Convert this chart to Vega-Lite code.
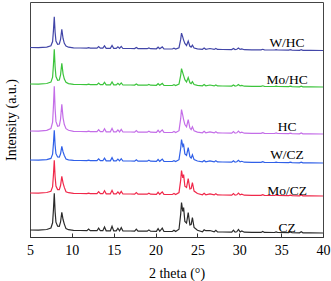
{
  "$schema": "https://vega.github.io/schema/vega-lite/v6.json",
  "width": 293,
  "height": 235,
  "autosize": {"type": "none"},
  "padding": {"left": 30, "top": 2, "right": 8, "bottom": 44},
  "config": {
    "font": "Liberation Serif",
    "view": {"stroke": "#444", "strokeWidth": 1}
  },
  "datasets": {
    "xrd": [
      {"x":5.0,"WHC":189.5,"MoHC":153,"HC":106,"WCZ":77,"MoCZ":44,"CZ":7},
      {"x":6.0,"WHC":189.4,"MoHC":152.9,"HC":105.9,"WCZ":76.9,"MoCZ":43.9,"CZ":6.9},
      {"x":7.0,"WHC":189.9,"MoHC":153.5,"HC":106.7,"WCZ":77.4,"MoCZ":44.5,"CZ":7.5},
      {"x":7.5,"WHC":191.2,"MoHC":154.9,"HC":108.5,"WCZ":78.6,"MoCZ":45.8,"CZ":9.0},
      {"x":7.7,"WHC":195.5,"MoHC":159.8,"HC":114.8,"WCZ":82.8,"MoCZ":50.4,"CZ":14.2},
      {"x":7.8,"WHC":206.4,"MoHC":172.1,"HC":130.6,"WCZ":93.3,"MoCZ":62.0,"CZ":27.2},
      {"x":7.9,"WHC":220.3,"MoHC":187.8,"HC":150.8,"WCZ":106.8,"MoCZ":76.8,"CZ":43.8},
      {"x":8.0,"WHC":204.7,"MoHC":170.2,"HC":128.2,"WCZ":91.7,"MoCZ":60.2,"CZ":25.2},
      {"x":8.1,"WHC":196.0,"MoHC":160.4,"HC":115.6,"WCZ":83.3,"MoCZ":51.0,"CZ":14.8},
      {"x":8.3,"WHC":192.7,"MoHC":156.7,"HC":110.8,"WCZ":80.0,"MoCZ":47.4,"CZ":10.8},
      {"x":8.5,"WHC":193.0,"MoHC":157.0,"HC":111.2,"WCZ":79.9,"MoCZ":47.4,"CZ":10.7},
      {"x":8.65,"WHC":197.5,"MoHC":162.2,"HC":117.9,"WCZ":83.2,"MoCZ":51.5,"CZ":15.0},
      {"x":8.8,"WHC":207.7,"MoHC":173.7,"HC":132.7,"WCZ":90.7,"MoCZ":60.7,"CZ":24.7},
      {"x":8.95,"WHC":198.5,"MoHC":163.2,"HC":119.2,"WCZ":85.1,"MoCZ":53.9,"CZ":17.5},
      {"x":9.1,"WHC":193.7,"MoHC":157.9,"HC":112.4,"WCZ":81.5,"MoCZ":49.6,"CZ":12.9},
      {"x":9.3,"WHC":191.0,"MoHC":154.7,"HC":108.3,"WCZ":78.0,"MoCZ":45.3,"CZ":8.4},
      {"x":9.6,"WHC":189.8,"MoHC":153.4,"HC":106.7,"WCZ":77.2,"MoCZ":44.3,"CZ":7.3},
      {"x":10.2,"WHC":189.1,"MoHC":152.6,"HC":105.6,"WCZ":76.6,"MoCZ":43.6,"CZ":6.6},
      {"x":11.0,"WHC":189.0,"MoHC":152.5,"HC":105.5,"WCZ":76.5,"MoCZ":43.5,"CZ":6.5},
      {"x":11.8,"WHC":188.9,"MoHC":152.4,"HC":105.4,"WCZ":76.4,"MoCZ":43.4,"CZ":6.4},
      {"x":12.0,"WHC":189.3,"MoHC":152.8,"HC":105.9,"WCZ":76.9,"MoCZ":43.9,"CZ":7.9},
      {"x":12.2,"WHC":188.9,"MoHC":152.4,"HC":105.4,"WCZ":76.4,"MoCZ":43.4,"CZ":6.4},
      {"x":13.0,"WHC":188.8,"MoHC":152.3,"HC":105.3,"WCZ":76.3,"MoCZ":43.3,"CZ":6.3},
      {"x":13.2,"WHC":190.4,"MoHC":153.9,"HC":107.3,"WCZ":78.1,"MoCZ":45.3,"CZ":8.9},
      {"x":13.4,"WHC":188.8,"MoHC":152.3,"HC":105.3,"WCZ":76.3,"MoCZ":43.3,"CZ":6.3},
      {"x":13.7,"WHC":188.8,"MoHC":152.3,"HC":105.3,"WCZ":76.3,"MoCZ":43.3,"CZ":6.3},
      {"x":13.9,"WHC":191.1,"MoHC":154.6,"HC":108.2,"WCZ":78.9,"MoCZ":46.2,"CZ":10.1},
      {"x":14.1,"WHC":188.7,"MoHC":152.2,"HC":105.2,"WCZ":76.2,"MoCZ":43.2,"CZ":6.2},
      {"x":14.6,"WHC":188.7,"MoHC":152.2,"HC":105.2,"WCZ":76.2,"MoCZ":43.2,"CZ":6.2},
      {"x":14.8,"WHC":191.5,"MoHC":155.0,"HC":108.7,"WCZ":79.35,"MoCZ":46.7,"CZ":10.75},
      {"x":15.0,"WHC":188.6,"MoHC":152.1,"HC":105.1,"WCZ":76.1,"MoCZ":43.1,"CZ":6.1},
      {"x":15.3,"WHC":188.6,"MoHC":152.1,"HC":105.1,"WCZ":76.1,"MoCZ":43.1,"CZ":6.1},
      {"x":15.5,"WHC":190.2,"MoHC":153.7,"HC":107.1,"WCZ":77.9,"MoCZ":45.1,"CZ":8.7},
      {"x":15.7,"WHC":188.6,"MoHC":152.1,"HC":105.1,"WCZ":76.1,"MoCZ":43.1,"CZ":6.1},
      {"x":15.9,"WHC":190.6,"MoHC":154.1,"HC":107.6,"WCZ":78.35,"MoCZ":45.6,"CZ":9.35},
      {"x":16.1,"WHC":188.5,"MoHC":152.0,"HC":105.0,"WCZ":76.0,"MoCZ":43.0,"CZ":6.0},
      {"x":17.0,"WHC":188.5,"MoHC":152.0,"HC":105.0,"WCZ":76.0,"MoCZ":43.0,"CZ":6.0},
      {"x":17.5,"WHC":188.4,"MoHC":151.9,"HC":104.9,"WCZ":75.9,"MoCZ":42.9,"CZ":5.9},
      {"x":17.7,"WHC":189.6,"MoHC":153.1,"HC":106.4,"WCZ":77.25,"MoCZ":44.4,"CZ":7.85},
      {"x":17.9,"WHC":188.4,"MoHC":151.9,"HC":104.9,"WCZ":75.9,"MoCZ":42.9,"CZ":5.9},
      {"x":19.0,"WHC":188.3,"MoHC":151.8,"HC":104.8,"WCZ":75.8,"MoCZ":42.8,"CZ":5.8},
      {"x":19.2,"WHC":189.1,"MoHC":152.6,"HC":105.8,"WCZ":76.7,"MoCZ":43.8,"CZ":7.1},
      {"x":19.4,"WHC":188.3,"MoHC":151.8,"HC":104.8,"WCZ":75.8,"MoCZ":42.8,"CZ":5.8},
      {"x":20.1,"WHC":188.2,"MoHC":151.7,"HC":104.7,"WCZ":75.7,"MoCZ":42.7,"CZ":5.7},
      {"x":20.3,"WHC":189.8,"MoHC":153.3,"HC":106.7,"WCZ":77.5,"MoCZ":44.7,"CZ":8.3},
      {"x":20.5,"WHC":188.2,"MoHC":151.7,"HC":104.7,"WCZ":75.7,"MoCZ":42.7,"CZ":5.7},
      {"x":20.8,"WHC":190.1,"MoHC":153.6,"HC":107.1,"WCZ":77.85,"MoCZ":45.1,"CZ":8.85},
      {"x":21.0,"WHC":188.1,"MoHC":151.6,"HC":104.6,"WCZ":75.6,"MoCZ":42.6,"CZ":5.6},
      {"x":22.0,"WHC":188.0,"MoHC":151.5,"HC":104.5,"WCZ":75.5,"MoCZ":42.5,"CZ":5.5},
      {"x":22.2,"WHC":188.8,"MoHC":152.3,"HC":105.5,"WCZ":76.4,"MoCZ":43.5,"CZ":6.8},
      {"x":22.4,"WHC":188.0,"MoHC":151.5,"HC":104.5,"WCZ":75.5,"MoCZ":42.5,"CZ":5.5},
      {"x":22.8,"WHC":189.3,"MoHC":152.9,"HC":106.3,"WCZ":77.3,"MoCZ":44.4,"CZ":7.8},
      {"x":23.0,"WHC":197.6,"MoHC":161.7,"HC":118.3,"WCZ":88.7,"MoCZ":56.9,"CZ":22.9},
      {"x":23.1,"WHC":203.9,"MoHC":168.4,"HC":127.4,"WCZ":97.4,"MoCZ":66.4,"CZ":34.4},
      {"x":23.25,"WHC":199.9,"MoHC":164.15,"HC":121.65,"WCZ":90.8,"MoCZ":59.2,"CZ":25.7},
      {"x":23.35,"WHC":196.9,"MoHC":161.4,"HC":117.4,"WCZ":92.4,"MoCZ":62.4,"CZ":29.4},
      {"x":23.5,"WHC":193.5,"MoHC":157.35,"HC":112.45,"WCZ":83.1,"MoCZ":50.8,"CZ":15.55},
      {"x":23.7,"WHC":191.5,"MoHC":155.0,"HC":110.25,"WCZ":81.7,"MoCZ":49.6,"CZ":13.95},
      {"x":23.9,"WHC":195.9,"MoHC":159.4,"HC":117.4,"WCZ":89.4,"MoCZ":58.4,"CZ":24.4},
      {"x":24.1,"WHC":190.7,"MoHC":154.2,"HC":108.95,"WCZ":80.3,"MoCZ":48.0,"CZ":12.05},
      {"x":24.25,"WHC":189.9,"MoHC":153.4,"HC":107.4,"WCZ":78.9,"MoCZ":48.4,"CZ":12.4},
      {"x":24.4,"WHC":191.8,"MoHC":155.3,"HC":110.3,"WCZ":82.3,"MoCZ":54.3,"CZ":19.3},
      {"x":24.6,"WHC":189.0,"MoHC":152.5,"HC":106.1,"WCZ":77.4,"MoCZ":45.9,"CZ":9.5},
      {"x":25.0,"WHC":188.2,"MoHC":151.7,"HC":104.9,"WCZ":76.0,"MoCZ":43.5,"CZ":6.7},
      {"x":25.6,"WHC":187.7,"MoHC":151.2,"HC":104.2,"WCZ":75.2,"MoCZ":42.2,"CZ":5.2},
      {"x":25.8,"WHC":188.9,"MoHC":152.4,"HC":105.7,"WCZ":76.55,"MoCZ":43.7,"CZ":7.15},
      {"x":26.0,"WHC":187.7,"MoHC":151.2,"HC":104.2,"WCZ":75.2,"MoCZ":42.2,"CZ":6.3},
      {"x":26.5,"WHC":188.5,"MoHC":152.0,"HC":105.2,"WCZ":76.1,"MoCZ":43.2,"CZ":6.5},
      {"x":27.0,"WHC":187.6,"MoHC":151.1,"HC":104.1,"WCZ":75.1,"MoCZ":42.1,"CZ":5.1},
      {"x":27.2,"WHC":188.6,"MoHC":152.1,"HC":105.3,"WCZ":76.2,"MoCZ":43.3,"CZ":6.7},
      {"x":27.4,"WHC":187.6,"MoHC":151.1,"HC":104.1,"WCZ":75.1,"MoCZ":42.1,"CZ":5.1},
      {"x":28.0,"WHC":187.5,"MoHC":151.0,"HC":104.0,"WCZ":75.0,"MoCZ":42.0,"CZ":5.0},
      {"x":29.1,"WHC":187.4,"MoHC":150.9,"HC":103.9,"WCZ":74.9,"MoCZ":41.9,"CZ":4.9},
      {"x":29.3,"WHC":188.6,"MoHC":152.1,"HC":105.4,"WCZ":76.25,"MoCZ":43.4,"CZ":6.85},
      {"x":29.5,"WHC":187.4,"MoHC":150.9,"HC":103.9,"WCZ":74.9,"MoCZ":41.9,"CZ":4.9},
      {"x":29.7,"WHC":187.7,"MoHC":151.2,"HC":104.2,"WCZ":75.2,"MoCZ":42.2,"CZ":5.2},
      {"x":29.9,"WHC":189.0,"MoHC":152.5,"HC":105.9,"WCZ":76.7,"MoCZ":43.9,"CZ":7.5},
      {"x":30.1,"WHC":187.6,"MoHC":151.1,"HC":104.1,"WCZ":75.1,"MoCZ":42.1,"CZ":5.1},
      {"x":30.3,"WHC":188.1,"MoHC":151.6,"HC":104.8,"WCZ":75.7,"MoCZ":42.8,"CZ":6.1},
      {"x":30.6,"WHC":187.3,"MoHC":150.8,"HC":103.8,"WCZ":74.8,"MoCZ":41.8,"CZ":4.8},
      {"x":31.5,"WHC":187.2,"MoHC":150.7,"HC":103.7,"WCZ":74.7,"MoCZ":41.7,"CZ":4.7},
      {"x":32.6,"WHC":187.1,"MoHC":150.6,"HC":103.6,"WCZ":74.6,"MoCZ":41.6,"CZ":4.6},
      {"x":32.8,"WHC":187.7,"MoHC":151.2,"HC":104.4,"WCZ":75.3,"MoCZ":42.4,"CZ":5.6},
      {"x":33.0,"WHC":187.1,"MoHC":150.6,"HC":103.6,"WCZ":74.6,"MoCZ":41.6,"CZ":4.6},
      {"x":34.2,"WHC":187.0,"MoHC":150.5,"HC":103.5,"WCZ":74.5,"MoCZ":41.5,"CZ":4.5},
      {"x":34.4,"WHC":187.4,"MoHC":150.9,"HC":104.0,"WCZ":74.95,"MoCZ":42.0,"CZ":5.15},
      {"x":34.6,"WHC":187.0,"MoHC":150.5,"HC":103.5,"WCZ":74.5,"MoCZ":41.5,"CZ":4.5},
      {"x":35.9,"WHC":186.9,"MoHC":150.4,"HC":103.4,"WCZ":74.4,"MoCZ":41.4,"CZ":4.4},
      {"x":36.1,"WHC":187.3,"MoHC":150.8,"HC":103.9,"WCZ":74.85,"MoCZ":41.9,"CZ":5.05},
      {"x":36.3,"WHC":186.9,"MoHC":150.4,"HC":103.4,"WCZ":74.4,"MoCZ":41.4,"CZ":4.4},
      {"x":37.2,"WHC":186.7,"MoHC":150.2,"HC":103.2,"WCZ":74.2,"MoCZ":41.2,"CZ":4.2},
      {"x":37.4,"WHC":187.3,"MoHC":150.8,"HC":104.0,"WCZ":74.9,"MoCZ":42.0,"CZ":5.2},
      {"x":37.6,"WHC":186.7,"MoHC":150.2,"HC":103.2,"WCZ":74.2,"MoCZ":41.2,"CZ":4.2},
      {"x":38.5,"WHC":186.6,"MoHC":150.1,"HC":103.1,"WCZ":74.1,"MoCZ":41.1,"CZ":4.1},
      {"x":40.0,"WHC":186.5,"MoHC":150.0,"HC":103.0,"WCZ":74.0,"MoCZ":41.0,"CZ":4.0}
    ],
    "labels": [
      {"x":35.7,"y":194,"label":"W/HC"},
      {"x":35.7,"y":157,"label":"Mo/HC"},
      {"x":35.7,"y":110,"label":"HC"},
      {"x":35.7,"y":82,"label":"W/CZ"},
      {"x":35.7,"y":46,"label":"Mo/CZ"},
      {"x":35.7,"y":9,"label":"CZ"}
    ]
  },
  "layer": [
    {
      "data": {"name": "xrd"},
      "transform": [{"fold": ["WHC","MoHC","HC","WCZ","MoCZ","CZ"], "as": ["sample","intensity"]}],
      "mark": {"type": "line", "strokeWidth": 1.2, "interpolate": "linear"},
      "encoding": {
        "x": {
          "field": "x", "type": "quantitative",
          "scale": {"domain": [5, 40], "nice": false, "zero": false},
          "axis": {
            "title": "2 theta (°)",
            "titleFont": "Liberation Serif", "titleFontSize": 14, "titleFontWeight": "normal",
            "titleColor": "#000", "titlePadding": 9,
            "values": [5,7.5,10,12.5,15,17.5,20,22.5,25,27.5,30,32.5,35,37.5,40],
            "labelExpr": "datum.value % 5 == 0 ? format(datum.value, 'd') : ''",
            "labelFont": "Liberation Serif", "labelFontSize": 14, "labelColor": "#000",
            "labelPadding": 10, "labelFlush": false, "labelOverlap": false,
            "tickSize": -4, "tickColor": "#333", "domainColor": "#333", "grid": false
          }
        },
        "y": {
          "field": "intensity", "type": "quantitative",
          "scale": {"domain": [0, 235], "nice": false, "zero": false},
          "axis": {
            "title": "Intensity (a.u.)", "labels": false, "ticks": false, "domain": false, "grid": false,
            "titleFont": "Liberation Serif", "titleFontSize": 14, "titleFontWeight": "normal",
            "titleColor": "#000", "titlePadding": 12
          }
        },
        "color": {
          "field": "sample", "type": "nominal",
          "scale": {
            "domain": ["WHC","MoHC","HC","WCZ","MoCZ","CZ"],
            "range": ["#4246a8","#3cc43c","#c46ee8","#3060e8","#f0284a","#2a2a2a"]
          },
          "legend": null
        },
        "detail": {"field": "sample"}
      }
    },
    {
      "data": {"name": "labels"},
      "mark": {"type": "text", "font": "Liberation Serif", "fontSize": 13.5, "color": "#000", "align": "center", "baseline": "middle"},
      "encoding": {
        "x": {"field": "x", "type": "quantitative"},
        "y": {"field": "y", "type": "quantitative"},
        "text": {"field": "label"}
      }
    }
  ]
}
